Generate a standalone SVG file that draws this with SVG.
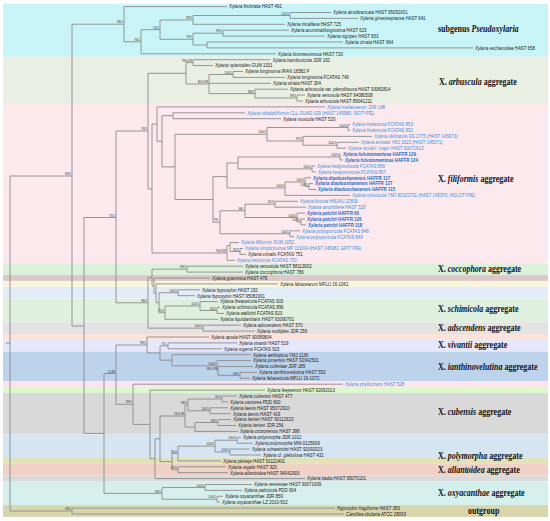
<svg xmlns="http://www.w3.org/2000/svg" width="550" height="521" viewBox="0 0 550 521">
<style>
.t{font-family:"Liberation Sans",Arial,sans-serif;font-size:5.5px;fill:#1a1a1a}
.i{font-style:italic}
.bl{fill:#3d8fd9}
.bb{fill:#1d6ac4;font-weight:bold}
.s{font-family:"Liberation Sans",Arial,sans-serif;font-size:3.9px;fill:#333;text-anchor:end}
.g{font-family:"Liberation Serif","Times New Roman",serif;font-size:10px;font-weight:bold;fill:#111}
.tree path{fill:none;stroke:#8a8a8a;stroke-width:0.9}
</style>
<rect width="550" height="521" fill="#fff"/>
<g id="bands">
<rect x="3" y="3.65" width="545" height="53.1" fill="#c9f4f7"/>
<rect x="3" y="56.75" width="545" height="47.2" fill="#e9efe3"/>
<rect x="3" y="103.95" width="545" height="159.3" fill="#fbe9ee"/>
<rect x="3" y="263.25" width="545" height="11.8" fill="#ddf0dc"/>
<rect x="3" y="275.05" width="545" height="5.9" fill="#dcc8c8"/>
<rect x="3" y="280.95" width="545" height="5.9" fill="#faf6dc"/>
<rect x="3" y="286.85" width="545" height="11.8" fill="#e4edf7"/>
<rect x="3" y="298.65" width="545" height="23.6" fill="#e0f0df"/>
<rect x="3" y="322.25" width="545" height="11.8" fill="#e3e3e3"/>
<rect x="3" y="334.05" width="545" height="5.9" fill="#fde2da"/>
<rect x="3" y="339.95" width="545" height="11.8" fill="#e6e7fa"/>
<rect x="3" y="351.75" width="545" height="29.5" fill="#bdd3ec"/>
<rect x="3" y="381.25" width="545" height="5.9" fill="#fde4ea"/>
<rect x="3" y="387.15" width="545" height="5.9" fill="#dcf8cf"/>
<rect x="3" y="393.05" width="545" height="41.3" fill="#d9d9d9"/>
<rect x="3" y="434.35" width="545" height="23.6" fill="#d5e5f2"/>
<rect x="3" y="457.95" width="545" height="5.9" fill="#e2e1b9"/>
<rect x="3" y="463.85" width="545" height="11.8" fill="#f0d1c5"/>
<rect x="3" y="475.65" width="545" height="5.9" fill="#dadada"/>
<rect x="3" y="481.55" width="545" height="23.6" fill="#d5f0ec"/>
<rect x="3" y="505.15" width="545" height="11.8" fill="#d8d5ad"/>
</g>
<g id="connectors" class="tree">
<path d="M6,343H10M10,176V511M10,176H72M72,24.2V326M72,326H84M10,511H72M72,508.1V514M72,508.1H335M72,514H344"/>
<path d="M72,24.2H124M124,6.6V41.8M124,6.6H227M124,41.8H141M141,29.7V53.8M141,53.8H276M141,29.7H160M160,20V39.3M160,20H193M193,15.5V24.3M193,15.5H290M290,12.5V18.4M290,12.5H331M290,18.4H358M193,24.3H285M160,39.3H193M193,33.2V45M193,33.2H223M223,30.2V36.1M223,30.2H289M223,36.1H325M193,45H207M207,42V47.9M207,42H343M207,47.9H473"/>
<path d="M84,217.5V433.4M84,217.5H116M116,131V302.8M116,131H148M148,73.3V189"/>
<path d="M148,73.3H186M186,62.6V84M186,62.6H193M193,59.7V65.6M193,59.7H270M193,65.6H213M186,84H209M209,74.5V93.6M209,74.5H233M233,71.5V77.4M233,71.5H243M233,77.4H285M209,83.3H271M209,93.6H255M255,89.2V98M255,89.2H288M255,98H297M297,95.1V101M297,95.1H305M297,101H303"/>
<path d="M148,189H152M152,124.1V253M152,124.1H157M157,106.9V141.3M157,106.9H325M157,141.3H162M162,115.7V166.9M162,115.7H173M173,112.8V118.7M173,112.8H245M173,118.7H281M162,166.9H175M175,134.3V199.5M175,134.3H267M267,127.5V141M267,127.5H348M348,124.6V130.5M348,124.6H350M348,130.5H350M267,141H303M303,136.4V145.2M303,136.4H372M303,145.2H337M337,142.3V148.2M337,142.3H359M337,148.2H346"/>
<path d="M175,199.5H213M213,176.6V222.3M213,176.6H227M227,163V188M227,163H238M238,157V168.9M238,157H340M340,154.1V160M340,154.1H341M340,160H343M238,168.9H312M312,165.9V171.8M312,165.9H315M312,171.8H316M227,188H285M285,182V195.4M285,182H305M305,177.7V186.5M305,177.7H311M305,186.5H309M309,183.6V189.5M309,183.6H313M309,189.5H316M285,195.4H350"/>
<path d="M213,222.3H220M220,210.8V233.8M220,210.8H245M245,204.2V217.5M245,204.2H275M275,201.3V207.2M275,201.3H298M275,207.2H306M245,217.5H297M297,213.1V221.9M297,213.1H305M297,221.9H301M301,219V224.9M301,219H305M301,224.9H306M220,233.8H290M290,230.8V236.7M290,230.8H300M290,236.7H294"/>
<path d="M152,253H227M227,245.5V260.3M227,260.3H235M227,245.5H230M230,242.6V251.5M230,242.6H239M230,251.5H240M240,248.5V254.4M240,248.5H243M240,254.4H246"/>
<path d="M116,302.8H148M148,277.4V328.15M148,277.4H152M152,269.15V285.7M152,269.15H187M187,266.2V272.1M187,266.2H243M187,272.1H243M152,285.7H154M154,278V293.3M154,278H210M154,293.3H156M156,283.9V302.7M156,283.9H278M156,302.7H159M159,292.75V312.7M159,292.75H178M178,289.8V295.7M178,289.8H200M178,295.7H195M159,312.7H165M165,306V319.3M165,306H200M200,301.6V310.45M200,301.6H218M200,310.45H217M217,307.5V313.4M217,307.5H220M217,313.4H224M165,319.3H218M148,328.15H203M203,325.2V331.1M203,325.2H241M203,331.1H255"/>
<path d="M84,433.4H104M104,373.5V493.35M104,373.5H116M116,345V404.3M116,345H147M147,337V353M147,337H209M147,353H160M160,345.85V360.2M160,345.85H168M168,342.9V348.8M168,342.9H237M168,348.8H222M160,360.2H172M172,354.7V365.8M172,354.7H251M172,365.8H217M217,360.6V370.9M217,360.6H251M217,370.9H218M218,366.5V375.35M218,366.5H253M218,375.35H240M240,372.4V378.3M240,372.4H257M240,378.3H250"/>
<path d="M116,404.3H133M133,384.2V424.4M133,384.2H343M133,424.4H150M150,390.1V458.7M150,390.1H265M150,458.7H155M155,438.8V478.6M155,478.6H305M155,438.8H160M160,416V461.6M160,416H185M185,404.9V427M185,404.9H188M188,399V410.75M188,399H222M222,396V401.9M222,396H237M222,401.9H228M188,410.75H210M210,407.8V413.7M210,407.8H228M210,413.7H231M185,427H195M195,422.5V431.4M195,422.5H218M218,419.6V425.5M218,419.6H231M218,425.5H236M195,431.4H238"/>
<path d="M160,461.6H172M172,453.5V469.75M172,453.5H178M178,446.15V460.9M178,446.15H215M215,440.25V452.05M215,440.25H237M237,437.3V443.2M237,437.3H241M237,443.2H253M215,452.05H230M230,449.1V455M230,449.1H250M230,455H261M178,460.9H221M172,469.75H178M178,466.8V472.7M178,466.8H226M178,472.7H228"/>
<path d="M104,493.35H162M162,487.45V499.25M162,487.45H205M205,484.5V490.4M205,484.5H252M205,490.4H242M162,499.25H217M217,496.3V502.2M217,496.3H223M217,502.2H220"/>
</g>
<g id="taxa" class="t" transform="scale(0.8 1)">
<g id="n01"><text x="286.25" y="8.5"><tspan class="i">Xylaria fimbriata</tspan> HAST 491</text></g>
<g id="n02"><text x="416.25" y="14.4"><tspan class="i">Xylaria atrodivaricata</tspan> HAST 95052001</text></g>
<g id="n03"><text x="450" y="20.3"><tspan class="i">Xylaria griseosepiacea</tspan> HAST 641</text></g>
<g id="n04"><text x="358.75" y="26.2"><tspan class="i">Xylaria intraflava</tspan> HAST 725</text></g>
<g id="n05"><text x="363.75" y="32.1"><tspan class="i">Xylaria acuminatilongissima</tspan> HAST 623</text></g>
<g id="n06"><text x="408.75" y="38"><tspan class="i">Xylaria nigripes</tspan> HAST 653</text></g>
<g id="n07"><text x="431.25" y="43.9"><tspan class="i">Xylaria cirrata</tspan> HAST 664</text></g>
<g id="n08"><text x="593.75" y="49.8"><tspan class="i">Xylaria escharoidea</tspan> HAST 658</text></g>
<g id="n09"><text x="347.5" y="55.7"><tspan class="i">Xylaria brunneovinosa</tspan> HAST 720</text></g>
<g id="n10"><text x="340.6" y="61.6"><tspan class="i">Xylaria bambusicola</tspan> JDR 162</text></g>
<g id="n11"><text x="268.75" y="67.5"><tspan class="i">Xylaria xylarioides</tspan> GUM 1151</text></g>
<g id="n12"><text x="306.25" y="73.4"><tspan class="i">Xylaria longissima</tspan> IRAN 16582 F</text></g>
<g id="n13"><text x="358.75" y="79.3"><tspan class="i">Xylaria longissima</tspan> FCATAS 749</text></g>
<g id="n14"><text x="341.25" y="85.2"><tspan class="i">Xylaria striata</tspan> HAST 304</text></g>
<g id="n15"><text x="362.5" y="91.1"><tspan class="i">Xylaria arbuscula</tspan> var. <tspan class="i">plenofissura</tspan> HAST 93082814</text></g>
<g id="n16"><text x="383.75" y="97"><tspan class="i">Xylaria venosula</tspan> HAST 94080508</text></g>
<g id="n17"><text x="381.25" y="102.9"><tspan class="i">Xylaria arbuscula</tspan> HAST 89041211</text></g>
<g id="n18"><text class="bl" x="408.75" y="108.8"><tspan class="i">Xylaria meliacearum</tspan> JDR 148</text></g>
<g id="n19"><text class="bl" x="308.75" y="114.7"><tspan class="i">Xylaria vittatipiliformis</tspan> CLL GUAD 029 (HAST 145985, ISOTYPE)</text></g>
<g id="n20"><text x="353.75" y="120.6"><tspan class="i">Xylaria muscula</tspan> HAST 520</text></g>
<g id="n21"><text class="bl" x="440" y="126.5"><tspan class="i">Xylaria lindericola</tspan> FCATAS 853</text></g>
<g id="n22"><text class="bl" x="440" y="132.4"><tspan class="i">Xylaria lindericola</tspan> FCATAS 852</text></g>
<g id="n23"><text class="bl" x="467.5" y="138.3"><tspan class="i">Xylaria delicatula</tspan> GS 2775 (HAST 145973)</text></g>
<g id="n24"><text class="bl" x="451.25" y="144.2"><tspan class="i">Xylaria aristata</tspan> YMJ 1623 (HAST 145971)</text></g>
<g id="n25"><text class="bl" x="435" y="150.1"><tspan class="i">Xylaria sicula</tspan> f. <tspan class="i">major</tspan> HAST 90071613</text></g>
<g id="n26"><text class="bb" x="428.75" y="156"><tspan class="i">Xylaria fulvotomentosa</tspan> HAFFR 129</text></g>
<g id="n27"><text class="bb" x="431.25" y="161.9"><tspan class="i">Xylaria fulvotomentosa</tspan> HAFFR 124</text></g>
<g id="n28"><text class="bl" x="396.25" y="167.8"><tspan class="i">Xylaria hedyosmicola</tspan> FCATAS 856</text></g>
<g id="n29"><text class="bl" x="397.5" y="173.7"><tspan class="i">Xylaria hedyosmicola</tspan> FCATAS 857</text></g>
<g id="n30"><text class="bb" x="391.25" y="179.6"><tspan class="i">Xylaria diaoluoshanensis</tspan> HAFFR 117</text></g>
<g id="n31"><text class="bb" x="393.75" y="185.5"><tspan class="i">Xylaria diaoluoshanensis</tspan> HAFFR 127</text></g>
<g id="n32"><text class="bb" x="397.5" y="191.4"><tspan class="i">Xylaria diaoluoshanensis</tspan> HAFFR 115</text></g>
<g id="n33"><text class="bl" x="440" y="197.3"><tspan class="i">Xylaria minuscula</tspan> YMJ 90102701 (HAST 145976, HOLOTYPE)</text></g>
<g id="n34"><text class="bl" x="375" y="203.2"><tspan class="i">Xylaria ficicola</tspan> HMJAU 22818</text></g>
<g id="n35"><text class="bl" x="385" y="209.1"><tspan class="i">Xylaria amphithele</tspan> HAST 529</text></g>
<g id="n36"><text class="bb" x="383.75" y="215"><tspan class="i">Xylaria petchii</tspan> HAFFR 60</text></g>
<g id="n37"><text class="bb" x="383.75" y="220.9"><tspan class="i">Xylaria petchii</tspan> HAFFR 126</text></g>
<g id="n38"><text class="bb" x="385" y="226.8"><tspan class="i">Xylaria petchii</tspan> HAFFR 118</text></g>
<g id="n39"><text class="bl" x="377.5" y="232.7"><tspan class="i">Xylaria polysporicola</tspan> FCATAS 848</text></g>
<g id="n40"><text class="bl" x="370" y="238.6"><tspan class="i">Xylaria polysporicola</tspan> FCATAS 849</text></g>
<g id="n41"><text class="bl" x="301.25" y="244.5"><tspan class="i">Xylaria filiformis</tspan> GUM 1052</text></g>
<g id="n42"><text class="bl" x="306.25" y="250.4"><tspan class="i">Xylaria simplicissima</tspan> MP 111004 (HAST 145982, EPITYPE)</text></g>
<g id="n43"><text x="310" y="256.3"><tspan class="i">Xylaria crinalis</tspan> FCATAS 751</text></g>
<g id="n44"><text class="bl" x="296.25" y="262.2"><tspan class="i">Xylaria betulicola</tspan> FCATAS 750</text></g>
<g id="n45"><text x="306.25" y="268.1"><tspan class="i">Xylaria venustula</tspan> HAST 88113002</text></g>
<g id="n46"><text x="306.25" y="274"><tspan class="i">Xylaria coccophora</tspan> HAST 786</text></g>
<g id="n47"><text x="265" y="279.9"><tspan class="i">Xylaria grammica</tspan> HAST 479</text></g>
<g id="n48"><text x="350" y="285.8"><tspan class="i">Xylaria fabacearum</tspan> MFLU 16-1061</text></g>
<g id="n49"><text x="252.5" y="291.7"><tspan class="i">Xylaria hypoxylon</tspan> HAST 152</text></g>
<g id="n50"><text x="246.25" y="297.6"><tspan class="i">Xylaria hypoxylon</tspan> HAST 95082001</text></g>
<g id="n51"><text x="275" y="303.5"><tspan class="i">Xylaria theaceicola</tspan> FCATAS 903</text></g>
<g id="n52"><text x="277.5" y="309.4"><tspan class="i">Xylaria schimicola</tspan> FCATAS 896</text></g>
<g id="n53"><text x="282.5" y="315.3"><tspan class="i">Xylaria wallichii</tspan> FCATAS 923</text></g>
<g id="n54"><text x="275" y="321.2"><tspan class="i">Xylaria liquidambaris</tspan> HAST 93090701</text></g>
<g id="n55"><text x="303.75" y="327.1"><tspan class="i">Xylaria adscendens</tspan> HAST 570</text></g>
<g id="n56"><text x="321.25" y="333"><tspan class="i">Xylaria multiplex</tspan> JDR 259</text></g>
<g id="n57"><text x="263.75" y="338.9"><tspan class="i">Xylaria apoda</tspan> HAST 90080804</text></g>
<g id="n58"><text x="298.75" y="344.8"><tspan class="i">Xylaria vivantii</tspan> HAST 519</text></g>
<g id="n59"><text x="280" y="350.7"><tspan class="i">Xylaria rogersii</tspan> FCATAS 915</text></g>
<g id="n60"><text x="316.25" y="356.6"><tspan class="i">Xylaria aethiopica</tspan> YMJ 1136</text></g>
<g id="n61"><text x="316.25" y="362.5"><tspan class="i">Xylaria juruensis</tspan> HAST 92042501</text></g>
<g id="n62"><text x="318.75" y="368.4"><tspan class="i">Xylaria culleniae</tspan> JDR 189</text></g>
<g id="n63"><text x="323.75" y="374.3"><tspan class="i">Xylaria ianthinovelutina</tspan> HAST 553</text></g>
<g id="n64"><text x="315" y="380.2"><tspan class="i">Xylaria fabaceicola</tspan> MFLU 16-1072</text></g>
<g id="n65"><text class="bl" x="431.25" y="386.1"><tspan class="i">Xylaria phyllocharis</tspan> HAST 528</text></g>
<g id="n66"><text x="333.75" y="392"><tspan class="i">Xylaria feejeensis</tspan> HAST 92092013</text></g>
<g id="n67"><text x="298.75" y="397.9"><tspan class="i">Xylaria cubensis</tspan> HAST 477</text></g>
<g id="n68"><text x="287.5" y="403.8"><tspan class="i">Xylaria castorea</tspan> PDD 600</text></g>
<g id="n69"><text x="287.5" y="409.7"><tspan class="i">Xylaria laevis</tspan> HAST 95072910</text></g>
<g id="n70"><text x="291.25" y="415.6"><tspan class="i">Xylaria laevis</tspan> HAST 419</text></g>
<g id="n71"><text x="291.25" y="421.5"><tspan class="i">Xylaria berteri</tspan> HAST 90112623</text></g>
<g id="n72"><text x="297.5" y="427.4"><tspan class="i">Xylaria berteri</tspan> JDR 256</text></g>
<g id="n73"><text x="300" y="433.3"><tspan class="i">Xylaria crozonensis</tspan> HAST 398</text></g>
<g id="n74"><text x="303.75" y="439.2"><tspan class="i">Xylaria polymorpha</tspan> JDR 1012</text></g>
<g id="n75"><text x="318.75" y="445.1"><tspan class="i">Xylaria polymorpha</tspan> MM-0125909</text></g>
<g id="n76"><text x="315" y="451"><tspan class="i">Xylaria schweinitzii</tspan> HAST 92092023</text></g>
<g id="n77"><text x="328.75" y="456.9"><tspan class="i">Xylaria</tspan> cf. <tspan class="i">glebulosa</tspan> HAST 431</text></g>
<g id="n78"><text x="278.75" y="462.8"><tspan class="i">Xylaria plebeja</tspan> HAST 91122401</text></g>
<g id="n79"><text x="285" y="468.7"><tspan class="i">Xylaria regalis</tspan> HAST 920</text></g>
<g id="n80"><text x="287.5" y="474.6"><tspan class="i">Xylaria allantoidea</tspan> HAST 94042903</text></g>
<g id="n81"><text x="383.75" y="480.5"><tspan class="i">Xylaria badia</tspan> HAST 95070101</text></g>
<g id="n82"><text x="317.5" y="486.4"><tspan class="i">Xylaria reevesiae</tspan> HAST 90071609</text></g>
<g id="n83"><text x="305" y="492.3"><tspan class="i">Xylaria palmicola</tspan> PDD 604</text></g>
<g id="n84"><text x="281.25" y="498.2"><tspan class="i">Xylaria oxyacanthae</tspan> JDR 859</text></g>
<g id="n85"><text x="277.5" y="504.1"><tspan class="i">Xylaria oxyacanthae</tspan> LZ 2010-502</text></g>
<g id="n86"><text x="421.25" y="510"><tspan class="i">Hypoxylon fragiforme</tspan> HAST 383</text></g>
<g id="n87"><text x="432.5" y="515.9"><tspan class="i">Camillea obularia</tspan> ATCC 28093</text></g>
</g>
<g id="support" class="s" transform="scale(0.8 1)">
<text x="153.75" y="23.4">96/1</text>
<text x="175" y="41">76/1</text>
<text x="198.75" y="28.9">74/1</text>
<text x="240" y="19.2">99/1</text>
<text x="361.25" y="14.7">100/1</text>
<text x="240" y="38.5">79/1</text>
<text x="277.5" y="32.4">99/1</text>
<text x="88.75" y="175.2">88/1</text>
<text x="88.75" y="510.2">98/1</text>
<text x="143.75" y="216.7">75/1</text>
<text x="183.75" y="130.2">79/1</text>
<text x="240" y="61.8">79/0.99</text>
<text x="260" y="83.2">80/0.98</text>
<text x="290" y="73.7">100/1</text>
<text x="317.5" y="92.8">89/1</text>
<text x="370" y="97.2">99/1</text>
<text x="332.5" y="133.5">100/1</text>
<text x="433.75" y="126.7">100/1</text>
<text x="377.5" y="140.2">97/1</text>
<text x="420" y="144.4">100/1</text>
<text x="423.75" y="156.2">100/1</text>
<text x="388.75" y="168.1">100/1</text>
<text x="355" y="187.2">100/1</text>
<text x="380" y="181.2">100/1</text>
<text x="385" y="185.7">100/1</text>
<text x="342.5" y="203.4">81/1</text>
<text x="305" y="210">86/-</text>
<text x="273.75" y="221.5">79/-</text>
<text x="370" y="216.7">100/1</text>
<text x="375" y="221.1">100/1</text>
<text x="361.25" y="233">100/1</text>
<text x="282.5" y="252.2">76/0.99</text>
<text x="298.75" y="250.7">92/1</text>
<text x="232.5" y="268.4">99/1</text>
<text x="183.75" y="302">96/1</text>
<text x="221.25" y="292">100/1</text>
<text x="205" y="311.9">75/1</text>
<text x="248.75" y="305.2">100/1</text>
<text x="270" y="309.7">84/1</text>
<text x="252.5" y="327.4">100/1</text>
<text x="182.5" y="344.2">99/1</text>
<text x="208.75" y="345.1">71/-</text>
<text x="270" y="365">100/1</text>
<text x="271.25" y="370.1">88/0.99</text>
<text x="298.75" y="374.6">99/1</text>
<text x="143.75" y="372.7">-/0.98</text>
<text x="165" y="403.5">89/1</text>
<text x="233.75" y="404.1">89/1</text>
<text x="276.25" y="398.2">92/1</text>
<text x="261.25" y="410">100/1</text>
<text x="271.25" y="421.7">89/1</text>
<text x="230" y="415.2">74/0.98</text>
<text x="295" y="439.5">100/1</text>
<text x="286.25" y="451.3">100/1</text>
<text x="267.5" y="445.4">100/1</text>
<text x="221.25" y="452.7">80/1</text>
<text x="221.25" y="469">87/1</text>
<text x="201.25" y="492.6">99/1</text>
<text x="255" y="486.7">100/1</text>
<text x="270" y="498.5">100/1</text>
</g>
<g id="groups" class="g" transform="scale(0.8 1)">
<text x="547.5" y="32.5">subgenus <tspan font-style="italic">Pseudoxylaria</tspan></text>
<text x="548.75" y="85">X. <tspan font-style="italic">arbuscula</tspan> aggregate</text>
<text x="547.5" y="182">X. <tspan font-style="italic">filiformis</tspan> aggregate</text>
<text x="547.5" y="272.5">X. <tspan font-style="italic">coccophora</tspan> aggregate</text>
<text x="547.5" y="312.5">X. <tspan font-style="italic">schimicola</tspan> aggregate</text>
<text x="547.5" y="330.8">X. <tspan font-style="italic">adscendens</tspan> aggregate</text>
<text x="547.5" y="348.2">X. <tspan font-style="italic">vivantii</tspan> aggregate</text>
<text x="547.5" y="370.3">X. <tspan font-style="italic">ianthinovelutina</tspan> aggregate</text>
<text x="547.5" y="415.5">X. <tspan font-style="italic">cubensis</tspan> aggregate</text>
<text x="547.5" y="459.5">X. <tspan font-style="italic">polymorpha</tspan> aggregate</text>
<text x="547.5" y="472.8">X. <tspan font-style="italic">allantoidea</tspan> aggregate</text>
<text x="547.5" y="496">X. <tspan font-style="italic">oxyacanthae</tspan> aggregate</text>
<text x="585" y="514.3">outgroup</text>
</g>
</svg>
